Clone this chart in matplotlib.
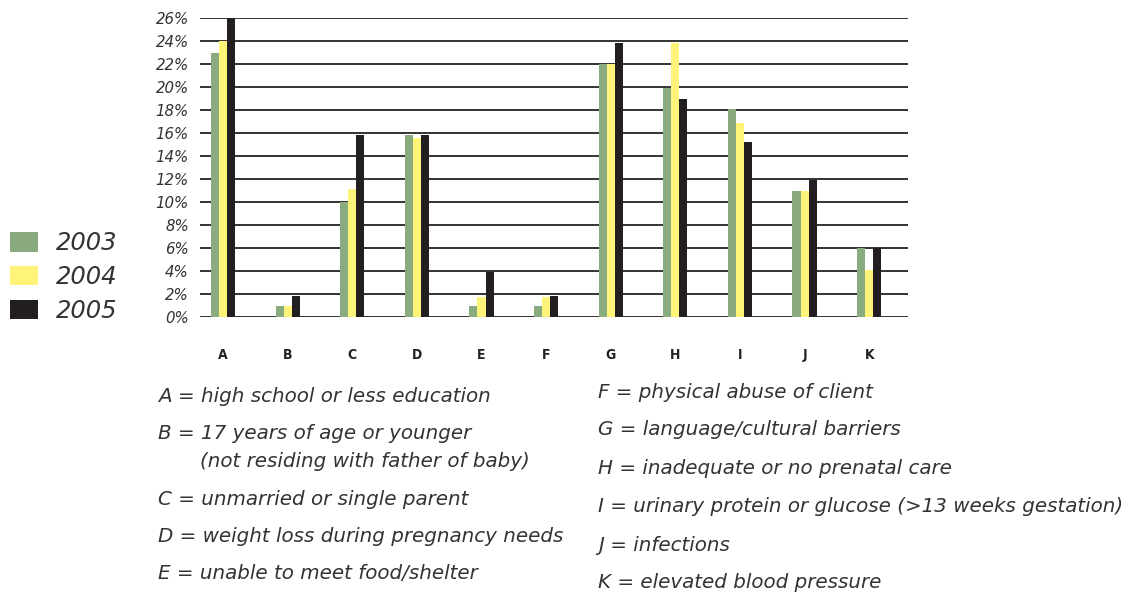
import matplotlib.pyplot as plt
import numpy as np

categories = ['A', 'B', 'C', 'D', 'E', 'F', 'G', 'H', 'I', 'J', 'K']
years = ['2003', '2004', '2005']
vals_2003 = [23.0, 1.0, 10.0, 15.8, 1.0, 1.0, 22.0, 19.9, 18.1, 11.0, 6.0]
vals_2004 = [24.0, 1.0, 11.1, 15.6, 1.7, 1.7, 22.0, 23.8, 16.9, 11.0, 4.1]
vals_2005 = [26.0, 1.8, 15.8, 15.8, 3.9, 1.8, 23.8, 19.0, 15.2, 11.9, 6.0]
yticks = list(range(0, 27, 2))

desc_left = [
    'A = high school or less education',
    'B = 17 years of age or younger',
    '(not residing with father of baby)',
    'C = unmarried or single parent',
    'D = weight loss during pregnancy needs',
    'E = unable to meet food/shelter',
]
desc_right = [
    'F = physical abuse of client',
    'G = language/cultural barriers',
    'H = inadequate or no prenatal care',
    'I = urinary protein or glucose (>13 weeks gestation)',
    'J = infections',
    'K = elevated blood pressure',
]

colors = ['#8aab80', '#fff47a', '#231f20']
txt = '#333333'
W, H = 1126, 593

fig = plt.figure(figsize=(W / 100, H / 100), dpi=100)
ax = fig.add_axes([200 / W, (H - 317) / H, 708 / W, 299 / H])

x = np.arange(len(categories))
bw = 0.125
bars = []
for i, (v, c) in enumerate(zip([vals_2003, vals_2004, vals_2005], colors)):
    bars.append(ax.bar(x + (i - 1) * bw, v, bw, color=c, zorder=2))

ax.set_ylim(0, 26)
ax.set_xlim(-0.356, 10.6)
ax.set_yticks(yticks)
ax.set_yticklabels([f'{t}%' for t in yticks], fontstyle='italic',
                   fontsize=10.8, color=txt)
ax.set_xticks(x)
ax.set_xticklabels(categories, fontweight='bold', fontsize=10,
                   stretch='condensed', color='#222222')
ax.tick_params(axis='both', length=0)
ax.tick_params(axis='x', pad=22)
ax.tick_params(axis='y', pad=8)
ax.grid(axis='y', color='#333333', linewidth=1.4, zorder=0)
ax.set_axisbelow(True)
for s in ax.spines.values():
    s.set_visible(False)

fig.legend(bars, years, loc='center left', bbox_to_anchor=(10 / W, (H - 277) / H),
           frameon=False, prop={'size': 17.5, 'style': 'italic'},
           handlelength=1.15, handleheight=0.86, handletextpad=0.74,
           labelspacing=0.4, borderpad=0, borderaxespad=0, labelcolor=txt)

tfont = dict(style='italic', fontsize=14.3, color=txt, va='baseline')
left_pos = [(158, 402), (158, 439), (200, 467), (158, 505), (158, 542), (158, 579)]
for s, (px, py) in zip(desc_left, left_pos):
    fig.text(px / W, (H - py) / H, s, **tfont)
right_y = [398, 435, 474, 512, 551, 588]
for s, py in zip(desc_right, right_y):
    fig.text(598 / W, (H - py) / H, s, **tfont)

fig.savefig('out.png', dpi=100)
